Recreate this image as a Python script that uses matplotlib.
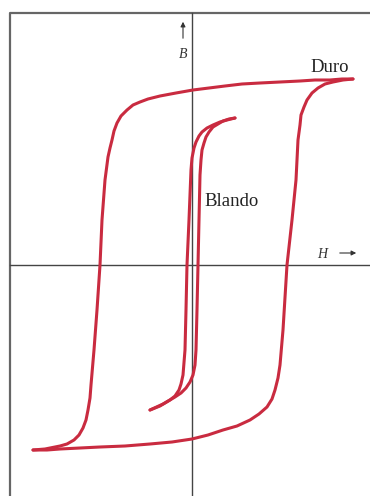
import matplotlib.pyplot as plt

# Duro (hard) loop, H / B
duro_down_h = [161, 150, 138, 123, 108, 88, 68, 50, 33, 17, 1, -16, -32, -44, -52, -59, -65,
               -71, -75, -78, -80, -82, -84, -87, -90, -92, -95, -98, -101, -102, -104, -106,
               -109, -113, -118, -125, -132, -147, -159]
duro_down_b = [186, 186, 185, 185, 184, 183, 182, 181, 179, 177, 175, 172, 169, 166, 163, 160, 155,
               149, 142, 134, 125, 117, 108, 85, 45, 0, -45, -85, -120, -133, -145, -155,
               -163, -170, -175, -179, -181, -184, -185]
duro_up_h = [-159, -145, -132, -112, -92, -67, -42, -20, 0, 16, 31, 45, 58, 67, 75, 80, 83, 86,
             88, 91, 95, 100, 104, 106, 108, 109, 112, 115, 120, 126, 133, 141, 151, 161]
duro_up_b = [-185, -185, -184, -183, -182, -181, -179, -177, -174, -170, -165, -161, -155, -149,
             -142, -134, -125, -113, -100, -65, 0, 45, 85, 125, 140, 150, 158, 165, 172, 177,
             181, 183, 185, 186]

# Blando (soft) loop
blando_down_h = [43, 35, 28, 21, 15, 10, 7, 4, 2, 0, -1, -3, -5, -6, -7, -9, -11, -13, -17,
                 -22, -27, -32, -42]
blando_down_b = [147, 145, 143, 140, 137, 133, 129, 123, 117, 107, 95, 45, 0, -45, -85, -110,
                 -119, -125, -131, -135, -138, -141, -145]
blando_up_h = [-42, -29, -17, -11, -6, -2, 1, 3, 4, 5, 6, 7, 8, 9, 10, 12, 14, 17, 21, 26,
               31, 37, 43]
blando_up_b = [-145, -139, -132, -128, -123, -117, -110, -100, -85, -45, 0, 45, 90, 105, 115,
               122, 128, 133, 138, 141, 144, 146, 147]

red = '#c92b40'
fig = plt.figure(figsize=(3.7, 4.96), dpi=100)
ax = fig.add_axes([0, 0, 1, 1])
ax.set_xlim(-192, 178)
ax.set_ylim(-231, 265)
ax.axis('off')

# frame (left and top only) and axes
ax.plot([-182, -182, 178], [-231, 252, 252], color='#666666', lw=1.6, solid_capstyle='butt')
ax.plot([0, 0], [-231, 252], color='#444444', lw=1.0)
ax.plot([-182, 178], [0, 0], color='#444444', lw=1.0)

for h, b in [(duro_down_h, duro_down_b), (duro_up_h, duro_up_b),
             (blando_down_h, blando_down_b), (blando_up_h, blando_up_b)]:
    ax.plot(h, b, color=red, lw=2.2, solid_joinstyle='round', solid_capstyle='round')

ax.text(138, 197, 'Duro', family='Liberation Serif', fontsize=13.5, ha='center', va='center', color='#222222')
ax.text(40, 64, 'Blando', family='Liberation Serif', fontsize=13.5, ha='center', va='center', color='#222222')

ax.text(-9, 210, 'B', family='Liberation Serif', style='italic', fontsize=10, ha='center', va='center', color='#333333')
ax.annotate('', xy=(-9, 246), xytext=(-9, 224),
            arrowprops=dict(arrowstyle='-|>', color='#333333', lw=0.8, mutation_scale=7))
ax.text(130, 10, 'H', family='Liberation Serif', style='italic', fontsize=10, ha='center', va='center', color='#333333')
ax.annotate('', xy=(167, 12), xytext=(145, 12),
            arrowprops=dict(arrowstyle='-|>', color='#333333', lw=0.8, mutation_scale=7))

fig.savefig('out.png', dpi=100)
